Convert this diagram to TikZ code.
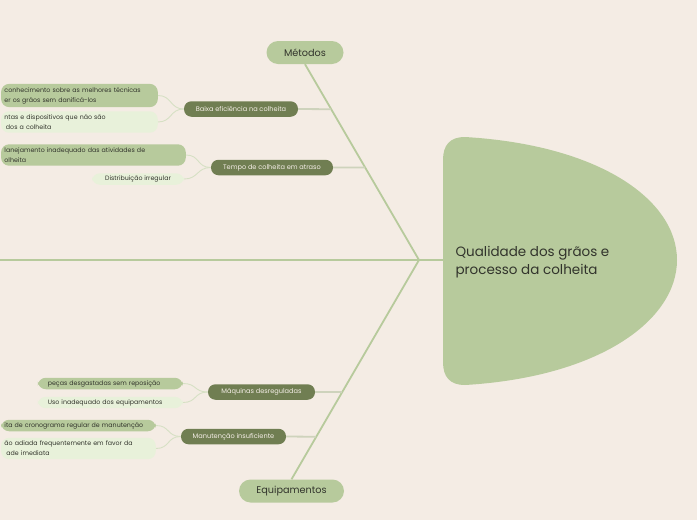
\documentclass[tikz,border=0pt]{standalone}
\usepackage{fontspec}
\setmainfont{Poppins}
\usetikzlibrary{calc,positioning}
\definecolor{bgpaper}{RGB}{244,236,228}
\definecolor{sage}{RGB}{183,202,156}
\definecolor{moss}{RGB}{112,126,82}
\definecolor{mint}{RGB}{232,241,218}
\definecolor{ink}{RGB}{50,52,44}
\definecolor{twig}{RGB}{206,211,188}
\definecolor{vein}{RGB}{214,224,196}
\begin{document}
\begin{tikzpicture}[
  x=1pt,y=-1pt,
  topic/.style={fill=sage,rounded corners=11.5pt,minimum height=23pt,text=ink,font=\fontsize{9.7}{10}\selectfont},
  branch/.style={fill=moss,rounded corners=7.5pt,minimum height=15.5pt,inner xsep=10pt,text=bgpaper!90!white,font=\fontsize{6.6}{7.5}\selectfont},
  leaf/.style={rounded corners=8pt,align=left,inner ysep=3.3pt,text=ink,font=\fontsize{6.3}{10}\selectfont},
  rib/.style={draw=sage,line width=1.8pt},
  stem/.style={draw=twig,line width=1.8pt},
  vine/.style={draw=vein,line width=0.9pt}
]
\fill[bgpaper] (0,0) rectangle (697,520);
\useasboundingbox (0,0) rectangle (697,520);
\clip (0,0) rectangle (697,520);

% head of the fishbone
\fill[sage] (443,160) .. controls (443,145) and (450,137) .. (465,137)
  .. controls (600,145) and (677,200) .. (677,260)
  .. controls (677,320) and (600,377) .. (465,385)
  .. controls (450,385) and (443,377) .. (443,362) -- cycle;
\node[anchor=west,align=left,text=ink,font=\fontsize{13.5}{18}\selectfont] (head) at (452,262) {Qualidade dos grãos e\\processo da colheita};

\coordinate (tail) at (0,260);
\coordinate (hub) at (419,260);
\coordinate (neck) at (443,260);
\draw[rib] (tail) -- (hub) -- (neck);

% main categories
\node[topic,minimum width=77pt] (metodos) at (305,52.5) {Métodos};
\node[topic,minimum width=105pt] (equip) at (291.5,491) {Equipamentos};
\draw[rib] (hub) -- (metodos.south);
\draw[rib] (hub) -- (equip.north);

% causes
\node[branch,minimum width=114pt] (baixa) at (241,109) {Baixa eficiência na colheita};
\node[branch,minimum width=122pt] (tempo) at (272,167.5) {Tempo de colheita em atraso};
\node[branch,minimum width=107pt] (maquinas) at (261.5,392) {Máquinas desreguladas};
\node[branch,minimum width=105pt] (manut) at (233.5,436.5) {Manutenção insuficiente};
\draw[stem] (baixa.east) -- ($(metodos.south)!0.23!(hub)$);
\draw[stem] (tempo.east) -- ($(metodos.south)!0.528!(hub)$);
\draw[stem] (maquinas.east) -- ($(equip.north)!0.398!(hub)$);
\draw[stem] (manut.east) -- ($(equip.north)!0.194!(hub)$);

% sub-causes
\node[leaf,fill=sage,anchor=east,text width=150pt] (l1) at (158,95.5) {conhecimento sobre as melhores técnicas\\er os grãos sem danificá-los};
\node[leaf,fill=mint,anchor=east,text width=150pt] (l2) at (158,122) {ntas e dispositivos que não são\\\hspace*{1.5pt}dos a colheita};
\node[leaf,fill=sage,anchor=east,text width=178pt] (l3) at (186,155) {lanejamento inadequado das atividades de\\olheita};
\node[leaf,fill=mint,inner ysep=2.5pt,minimum width=92pt,align=center] (l4) at (138,179) {Distribuição irregular};
\node[leaf,fill=sage,inner ysep=2.5pt,text width=125pt,inner xsep=10pt,anchor=east] (l5) at (183,383.5) {peças desgastadas sem reposição};
\node[leaf,fill=mint,inner ysep=2.5pt,text width=125pt,inner xsep=10pt,anchor=east] (l6) at (183,402.5) {Uso inadequado dos equipamentos};
\node[leaf,fill=sage,inner ysep=2.5pt,anchor=east,text width=148pt] (l7) at (156,425.5) {ita de cronograma regular de manutenção};
\node[leaf,fill=mint,anchor=east,text width=148pt] (l8) at (156,448.5) {ão adiada frequentemente em favor da\\\hspace*{2pt}ade imediata};

\draw[vine] (l1.east) .. controls +(14,0) and +(-14,0) .. (baixa.west);
\draw[vine] (l2.east) .. controls +(14,0) and +(-14,0) .. (baixa.west);
\draw[vine] (l3.east) .. controls +(14,0) and +(-14,0) .. (tempo.west);
\draw[vine] (l4.east) .. controls +(14,0) and +(-14,0) .. (tempo.west);
\draw[vine] (l5.east) .. controls +(14,0) and +(-14,0) .. (maquinas.west);
\draw[vine] (l6.east) .. controls +(14,0) and +(-14,0) .. (maquinas.west);
\draw[vine] (l7.east) .. controls +(14,0) and +(-14,0) .. (manut.west);
\draw[vine] (l8.east) .. controls +(14,0) and +(-14,0) .. (manut.west);
\end{tikzpicture}
\end{document}
